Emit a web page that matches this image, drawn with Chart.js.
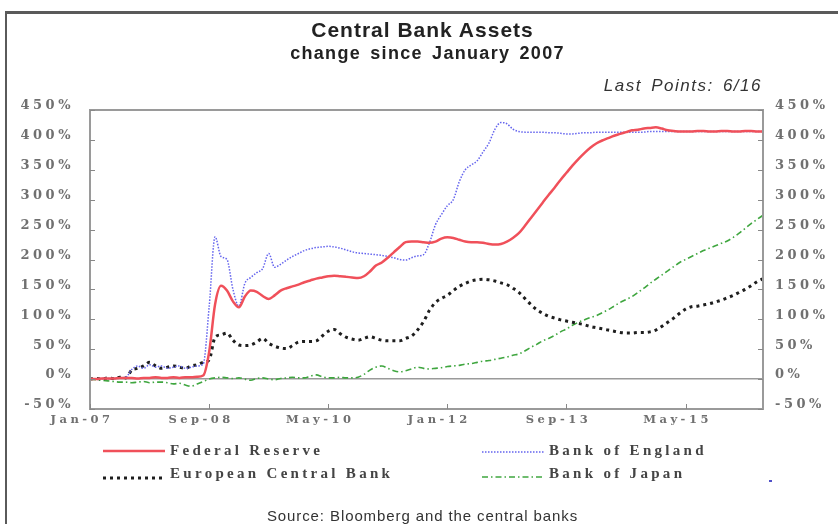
<!DOCTYPE html>
<html>
<head>
<meta charset="utf-8">
<script src="https://cdn.jsdelivr.net/npm/chart.js@4/dist/chart.umd.min.js"></script>
<style>
  body { margin: 0; background: #fff; }
  #wrap { position: relative; width: 838px; height: 524px; overflow: hidden; background: #fff; }
  #frame { position: absolute; left: 5px; top: 11px; width: 900px; height: 600px;
           border-top: 3px solid #5a5a5a; border-left: 2px solid #5a5a5a; }
  canvas { position: absolute; left: 0; top: 0; }
  .txt { position: absolute; white-space: nowrap; color: #222; font-family: "Liberation Sans", Arial, sans-serif; }
  #title { left: 0; width: 845px; text-align: center; top: 19px; font-size: 21px; line-height: 21px; font-weight: bold; letter-spacing: 1px; }
  #sub { left: 0; width: 855px; text-align: center; top: 44px; font-size: 18px; line-height: 18px; font-weight: bold; letter-spacing: 1.3px; word-spacing: 3px; }
  #last { right: 76px; top: 77px; font-size: 17px; line-height: 17px; font-style: italic; letter-spacing: 1.5px; word-spacing: 3px; color: #333; }
  #source { left: 0; width: 845px; text-align: center; top: 508px; font-size: 15px; line-height: 15px; color: #333; letter-spacing: 0.9px; }
  .leg { position: absolute; font-family: "Liberation Serif", "Times New Roman", serif; font-weight: bold;
         font-size: 15px; line-height: 15px; color: #444; letter-spacing: 3.3px; white-space: nowrap; }
  .legsvg { position: absolute; }
  #dot { position: absolute; left: 769px; top: 480px; width: 3px; height: 2px; background: #5050c8; }
</style>
</head>
<body>
<div id="wrap">
  <div id="frame"></div>
  <canvas id="chart" width="838" height="524"></canvas>
  <div class="txt" id="title">Central Bank Assets</div>
  <div class="txt" id="sub">change since January 2007</div>
  <div class="txt" id="last">Last Points: 6/16</div>
  <div id="legend"></div>
  <div id="dot"></div>
  <div class="txt" id="source">Source: Bloomberg and the central banks</div>
</div>
<script>
// month index 0 = Jan-07 ... 113 = Jun-16, values in % change since Jan 2007
const seriesNames = ['Federal Reserve', 'Bank of England', 'European Central Bank', 'Bank of Japan'];

const fed = [
  0, 0, 1, 1, 1, 2, 2, 2, 1, 2, 2, 3,
  2, 2, 3, 2, 3, 3, 4, 6, 45, 125, 156, 148,
  130, 120, 138, 148, 146, 139, 134, 140, 148, 152, 155, 158,
  162, 165, 168, 170, 172, 173, 172, 171, 170, 169, 172, 180,
  190, 195, 203, 212, 221, 229, 230, 230, 229, 228, 230, 235,
  237, 236, 233, 230, 229, 229, 228, 226, 225, 226, 230, 236,
  244, 256, 269, 282, 295, 308, 320, 333, 345, 357, 368, 378,
  387, 394, 399, 403, 407, 410, 413, 416, 417, 419, 420, 421,
  419, 416, 415, 414, 414, 414, 415, 415, 414, 414, 415, 415,
  414, 414, 415, 415, 414, 414
];
const boe = [
  0, 0, 1, 1, 1, 2, 3, 16, 22, 18, 24, 20,
  22, 18, 20, 22, 18, 20, 22, 25, 120, 238, 205, 200,
  150, 122, 160, 170, 178, 185, 210, 187, 192, 199, 205, 210,
  215, 218, 220, 221, 222, 221, 219, 216, 213, 211, 210, 209,
  208, 207, 205, 203, 200, 199, 203, 206, 208, 228, 258, 275,
  290, 300, 330, 350, 358, 365, 380, 395, 418, 429, 427, 418,
  414, 413, 413, 413, 413, 412, 412, 411, 410, 410, 411, 412,
  412, 413, 413, 413, 413, 413, 413, 413, 413, 413, 414, 414,
  414, 414, 414, 414, 414, 414, 414, 414, 414, 414, 414, 414,
  414, 414, 414, 414, 414, 414
];
const ecb = [
  0, 1, 0, 2, 1, 3, 2, 15, 18, 22, 28, 22,
  18, 20, 22, 20, 18, 22, 24, 28, 32, 70, 74, 77,
  65, 57, 56, 57, 62, 68, 60, 55, 52, 51, 56, 62,
  63, 63, 64, 72, 80, 83, 76, 70, 67, 65, 68, 71,
  68, 65, 64, 64, 64, 68, 72, 82, 96, 115, 128, 135,
  140, 148, 155, 160, 164, 166, 167, 166, 164, 161, 158, 152,
  145, 135, 125, 116, 110, 105, 102, 99, 97, 95, 93, 91,
  88, 86, 84, 82, 80, 78, 77, 77, 78, 78, 79, 82,
  88, 95, 102, 110, 117, 121, 122, 124, 126, 129, 132, 136,
  140, 145, 150, 156, 163, 168
];
const boj = [
  0, -1, -2, -3, -4, -5, -5, -6, -5, -4, -6, -5,
  -5, -6, -8, -7, -10, -12, -8, -4, 0, 2, 3, 2,
  1, 2, 0, -2, 1, 2, 0, -1, 1, 2, 3, 2,
  2, 5, 7, 4, 2, 2, 3, 2, 2, 3, 8, 15,
  20, 22, 18, 14, 12, 14, 17, 20, 18, 17, 18, 19,
  21, 22, 23, 25, 26, 28, 30, 31, 33, 35, 37, 40,
  42, 47, 53, 58, 64, 68, 73, 79, 84, 90, 95, 99,
  103, 106, 111, 116, 122, 128, 133, 138, 145, 152, 160, 167,
  174, 181, 188, 195, 200, 205, 210, 215, 219, 223, 227, 231,
  237, 244, 252, 260, 267, 274
];

const tickMonths = [0, 20, 40, 60, 80, 100];
const tickLabels = ['Jan-07', 'Sep-08', 'May-10', 'Jan-12', 'Sep-13', 'May-15'];

const colors = ['#f0505a', '#6464ee', '#1e1e1e', '#3fa63f'];
const widths = [2.5, 1.5, 3, 1.6];
const dashes = [[], [1.5, 1.5], [3, 4], [6, 3, 1.5, 3]];

const toPoints = arr => arr.map((v, i) => ({ x: i, y: v }));

const datasets = [fed, boe, ecb, boj].map((arr, k) => ({
  label: seriesNames[k],
  data: toPoints(arr),
  borderColor: colors[k],
  borderWidth: widths[k],
  borderDash: dashes[k],
  pointRadius: 0,
  tension: 0.3,
  cubicInterpolationMode: 'monotone',
  fill: false
}));

// wide-set tick labels like the original print
const spacing = {
  id: 'spacing',
  beforeLayout(chart) { chart.ctx.letterSpacing = '3.5px'; },
  beforeDraw(chart) { chart.ctx.letterSpacing = '3.5px'; }
};

// grey box around the plot plus short inward tick marks
const frame = {
  id: 'frame',
  afterDatasetsDraw(chart) {
    const { ctx, chartArea: a, scales } = chart;
    ctx.save();
    ctx.strokeStyle = '#9a9a9a';
    ctx.lineWidth = 2;
    ctx.strokeRect(a.left, a.top, a.right - a.left, a.bottom - a.top);
    ctx.lineWidth = 1;
    ctx.strokeStyle = '#888';
    ctx.beginPath();
    scales.y.ticks.forEach(t => {
      const py = Math.round(scales.y.getPixelForValue(t.value)) + 0.5;
      ctx.moveTo(a.left, py); ctx.lineTo(a.left + 5, py);
      ctx.moveTo(a.right - 5, py); ctx.lineTo(a.right, py);
    });
    tickMonths.forEach(m => {
      const px = Math.round(scales.x.getPixelForValue(m)) + 0.5;
      ctx.moveTo(px, a.bottom); ctx.lineTo(px, a.bottom - 5);
    });
    ctx.stroke();
    ctx.restore();
  }
};

const serif = "'DejaVu Serif', 'Liberation Serif', serif";

const yAxis = (pos, pad, width) => ({
  position: pos,
  min: -50,
  max: 450,
  ticks: {
    stepSize: 50,
    padding: pad,
    labelOffset: -4,
    color: '#707070',
    font: { family: serif, size: 13, weight: 'bold' },
    callback: v => v + '%'
  },
  grid: {
    drawTicks: false,
    lineWidth: 1.5,
    color: c => (c.tick && c.tick.value === 0 && pos === 'left') ? '#9a9a9a' : 'rgba(0,0,0,0)'
  },
  border: { display: false },
  afterFit: s => { s.width = width; }
});

const chart = new Chart(document.getElementById('chart'), {
  type: 'line',
  data: { datasets: datasets },
  options: {
    responsive: false,
    animation: false,
    layout: { padding: { top: 110, bottom: 85, left: 0, right: 0 } },
    plugins: { legend: { display: false }, title: { display: false }, tooltip: { enabled: false } },
    scales: {
      x: {
        type: 'linear',
        min: 0,
        max: 113,
        afterBuildTicks: s => { s.ticks = tickMonths.map(v => ({ value: v })); },
        ticks: {
          autoSkip: false,
          maxRotation: 0,
          padding: 4,
          labelOffset: -8,
          color: '#707070',
          font: { family: serif, size: 11.5, weight: 'bold' },
          callback: v => tickLabels[tickMonths.indexOf(v)]
        },
        grid: { display: false, drawTicks: false },
        border: { display: false },
        afterFit: s => { s.height = 30; }
      },
      y: yAxis('left', 16, 90),
      y2: yAxis('right', 12, 75)
    }
  },
  plugins: [spacing, frame]
});

// legend laid out in two columns, built from the chart's datasets
const legendSpots = [
  { x: 103, y: 451, tx: 170 },
  { x: 482, y: 452, tx: 549 },
  { x: 103, y: 478, tx: 170 },
  { x: 482, y: 477, tx: 549 }
];
const legendEl = document.getElementById('legend');
chart.data.datasets.forEach((ds, k) => {
  const s = legendSpots[k];
  const svg = document.createElementNS('http://www.w3.org/2000/svg', 'svg');
  svg.setAttribute('class', 'legsvg');
  svg.setAttribute('width', '64');
  svg.setAttribute('height', '8');
  svg.style.left = s.x + 'px';
  svg.style.top = (s.y - 4) + 'px';
  const ln = document.createElementNS('http://www.w3.org/2000/svg', 'line');
  ln.setAttribute('x1', '0'); ln.setAttribute('y1', '4');
  ln.setAttribute('x2', '62'); ln.setAttribute('y2', '4');
  ln.setAttribute('stroke', ds.borderColor);
  ln.setAttribute('stroke-width', ds.borderWidth);
  if (ds.borderDash.length) ln.setAttribute('stroke-dasharray', ds.borderDash.join(' '));
  svg.appendChild(ln);
  legendEl.appendChild(svg);
  const t = document.createElement('div');
  t.className = 'leg';
  t.textContent = ds.label;
  t.style.left = s.tx + 'px';
  t.style.top = (k < 2 ? 443 : 466) + 'px';
  legendEl.appendChild(t);
});
</script>
</body>
</html>
